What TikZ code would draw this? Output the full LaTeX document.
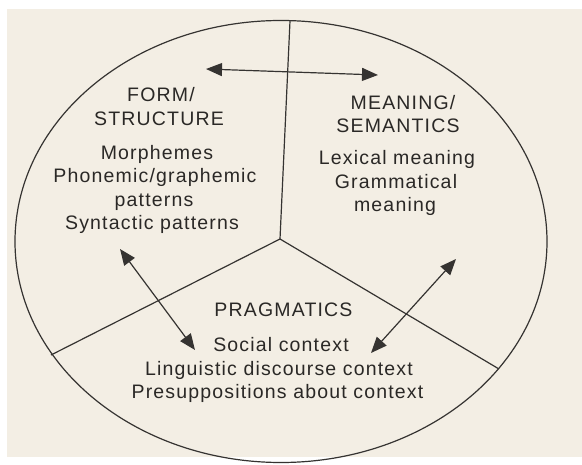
\documentclass[tikz,border=0pt]{standalone}
\usepackage{fontspec}
\setmainfont{Liberation Sans}
\usetikzlibrary{arrows.meta}
\definecolor{paper}{HTML}{F3EEE4}
\definecolor{ink}{HTML}{353331}
\definecolor{txt}{HTML}{2A2826}
\begin{document}
\begin{tikzpicture}[x=1pt,y=-1pt,
  ln/.style={draw=ink,line width=1.2pt},
  arr/.style={ln,{Triangle[length=16pt,width=13pt]}-{Triangle[length=16pt,width=13pt]}},
  lbl/.style={text=txt,font=\fontsize{19.5}{23}\selectfont\addfontfeature{LetterSpace=6},anchor=base,inner sep=0pt}]
\useasboundingbox (0,0) rectangle (582,465);
\fill[white] (0,0) rectangle (582,465);
\fill[paper] (7,9) rectangle (582,457);
% circle
\coordinate (o) at (281,241.5);
\draw[ln] (o) ellipse [x radius=266pt, y radius=221pt];
% dividers
\coordinate (top) at (290,21);
\coordinate (ctr) at (280,239);
\coordinate (lft) at (51,355);
\coordinate (rgt) at (499,369);
\draw[ln] (top) -- (ctr);
\draw[ln] (ctr) -- (lft);
\draw[ln] (ctr) -- (rgt);
% arrows
\coordinate (a1) at (206,69);
\coordinate (a2) at (378,75);
\coordinate (b1) at (120,249);
\coordinate (b2) at (195,350);
\coordinate (c1) at (456,259);
\coordinate (c2) at (371,353);
\draw[arr] (a1) -- (a2);
\draw[arr] (b1) -- (b2);
\draw[arr] (c1) -- (c2);
% form / structure
\node[lbl] (form1) at (161,101.7) {FORM/};
\node[lbl] (form2) at (159,125.7) {STRUCTURE};
\node[lbl] (f1) at (157,160) {Morphemes};
\node[lbl] (f2) at (155,183) {Phonemic/graphemic};
\node[lbl] (f3) at (154,207) {patterns};
\node[lbl] (f4) at (152,230) {Syntactic patterns};
% meaning / semantics
\node[lbl] (mean1) at (403,110) {MEANING/};
\node[lbl] (mean2) at (398,133) {SEMANTICS};
\node[lbl] (m1) at (397,165) {Lexical meaning};
\node[lbl] (m2) at (396,189) {Grammatical};
\node[lbl] (m3) at (395,212) {meaning};
% pragmatics
\node[lbl] (prag) at (283.5,316.7) {PRAGMATICS};
\node[lbl] (p1) at (281,352) {Social context};
\node[lbl] (p2) at (279,376) {Linguistic discourse context};
\node[lbl] (p3) at (277.5,399) {Presuppositions about context};
\end{tikzpicture}
\end{document}
